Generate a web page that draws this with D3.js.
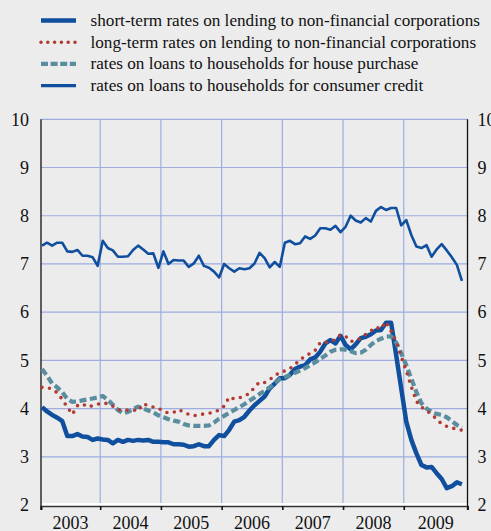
<!DOCTYPE html>
<html>
<head>
<meta charset="utf-8">
<script src="https://cdn.jsdelivr.net/npm/d3@7"></script>
<style>
  html, body { margin: 0; padding: 0; background: #ececec; }
  svg { display: block; font-family: "Liberation Serif", "Times New Roman", serif; }
</style>
</head>
<body>
<svg width="491" height="531"></svg>
<script>
// monthly data, Jan 2003 - Dec 2009 (percentages per annum)
const years = ["2003", "2004", "2005", "2006", "2007", "2008", "2009"];
const yTicks = [2, 3, 4, 5, 6, 7, 8, 9, 10];

const shortTerm = [
  4.03, 3.94, 3.87, 3.81, 3.74, 3.43, 3.43, 3.47, 3.42, 3.41, 3.35, 3.38,
  3.36, 3.35, 3.28, 3.35, 3.31, 3.35, 3.33, 3.35, 3.34, 3.35, 3.31, 3.31,
  3.30, 3.30, 3.26, 3.26, 3.25, 3.21, 3.22, 3.26, 3.22, 3.22, 3.35, 3.45,
  3.43, 3.56, 3.73, 3.76, 3.83, 3.96, 4.07, 4.16, 4.25, 4.42, 4.52, 4.63,
  4.63, 4.70, 4.82, 4.87, 4.90, 5.02, 5.06, 5.18, 5.35, 5.42, 5.35, 5.51,
  5.32, 5.23, 5.33, 5.46, 5.49, 5.54, 5.62, 5.63, 5.78, 5.78, 5.11, 4.42,
  3.73, 3.35, 3.07, 2.83, 2.78, 2.79, 2.66, 2.54, 2.35, 2.39, 2.47, 2.43
];
const longTerm = [
  4.44, 4.44, 4.40, 4.33, 4.19, 4.03, 3.88, 4.06, 4.10, 4.03, 4.06, 4.09,
  4.12, 4.10, 4.05, 3.98, 3.96, 3.97, 3.97, 3.95, 4.10, 4.06, 4.03, 4.01,
  3.94, 3.91, 3.92, 3.98, 3.93, 3.88, 3.85, 3.87, 3.89, 3.90, 3.93, 3.97,
  4.05, 4.24, 4.20, 4.22, 4.27, 4.31, 4.44, 4.55, 4.54, 4.60, 4.68, 4.75,
  4.78, 4.83, 4.92, 5.00, 5.10, 5.14, 5.21, 5.37, 5.37, 5.39, 5.43, 5.53,
  5.50, 5.39, 5.41, 5.46, 5.54, 5.61, 5.69, 5.65, 5.80, 5.60, 5.40, 5.08,
  4.78, 4.45, 4.15, 4.03, 3.96, 3.88, 3.78, 3.68, 3.63, 3.60, 3.57, 3.55
];
const housePurchase = [
  4.82, 4.68, 4.52, 4.44, 4.34, 4.20, 4.14, 4.15, 4.17, 4.19, 4.21, 4.23,
  4.26, 4.18, 4.08, 3.97, 3.90, 3.93, 3.99, 4.04, 4.00, 3.96, 3.92, 3.86,
  3.82, 3.78, 3.75, 3.73, 3.68, 3.65, 3.64, 3.64, 3.64, 3.65, 3.71, 3.79,
  3.85, 3.91, 3.97, 4.03, 4.09, 4.16, 4.23, 4.30, 4.37, 4.44, 4.52, 4.61,
  4.65, 4.69, 4.74, 4.79, 4.84, 4.90, 4.96, 5.03, 5.10, 5.18, 5.22, 5.23,
  5.22, 5.19, 5.15, 5.16, 5.22, 5.32, 5.40, 5.45, 5.49, 5.50, 5.37, 5.15,
  4.90, 4.62, 4.34, 4.11, 4.00, 3.93, 3.89, 3.87, 3.82, 3.74, 3.66, 3.60
];
const consumerCredit = [
  7.38, 7.44, 7.38, 7.44, 7.44, 7.26, 7.25, 7.29, 7.17, 7.17, 7.14, 6.96,
  7.48, 7.33, 7.28, 7.15, 7.15, 7.16, 7.29, 7.38, 7.30, 7.21, 7.22, 6.92,
  7.26, 7.00, 7.08, 7.07, 7.07, 6.94, 7.01, 7.17, 6.96, 6.92, 6.84, 6.72,
  7.00, 6.91, 6.84, 6.91, 6.89, 6.91, 7.01, 7.23, 7.12, 6.93, 7.04, 6.94,
  7.44, 7.48, 7.41, 7.43, 7.57, 7.52, 7.59, 7.74, 7.74, 7.71, 7.79, 7.66,
  7.77, 8.00, 7.90, 7.86, 7.95, 7.88, 8.10, 8.18, 8.12, 8.16, 8.16, 7.80,
  7.91, 7.60, 7.36, 7.33, 7.39, 7.15, 7.30, 7.41, 7.28, 7.14, 6.98, 6.65
];

const seriesNames = [
  "short-term rates on lending to non-financial corporations",
  "long-term rates on lending to non-financial corporations",
  "rates on loans to households for house purchase",
  "rates on loans to households for consumer credit"
];

const svg = d3.select("svg");
const serif = "'Liberation Serif', 'Times New Roman', serif";
const blue = "#0f4f9e", red = "#b23a30", teal = "#5a8d9e";

// estilos de cada serie
const styles = [
  { color: blue, width: 4.5, dash: null, cap: "butt" },
  { color: red, width: 3.6, dash: "0 7.6", cap: "round" },
  { color: teal, width: 4.2, dash: "7 3.5", cap: "butt" },
  { color: blue, width: 2.6, dash: null, cap: "butt" }
];
const allSeries = [shortTerm, longTerm, housePurchase, consumerCredit];

// escalas
const x = d3.scaleLinear().domain([-0.2, 84.1]).range([41, 467.5]);
const y = d3.scaleLinear().domain([2, 10]).range([505, 119.3]);

// rejilla
const yearBounds = d3.range(1, years.length).map(k => k * 12 - 0.5);
svg.append("g").selectAll("line.h")
  .data(yTicks.filter(t => t > 2))
  .join("line")
  .attr("x1", x(-0.2)).attr("x2", x(84.1))
  .attr("y1", d => y(d)).attr("y2", d => y(d))
  .attr("stroke", "#9eacdf").attr("stroke-width", 1.2);
svg.append("g").selectAll("line.v")
  .data(yearBounds)
  .join("line")
  .attr("x1", d => x(d)).attr("x2", d => x(d))
  .attr("y1", y(10)).attr("y2", y(2))
  .attr("stroke", "#9eacdf").attr("stroke-width", 1.2);

// eje inferior
const bounds = [-0.2, ...yearBounds, 84.1];
const bottom = svg.append("g").attr("transform", `translate(0,${y(2) + 1})`)
  .call(d3.axisBottom(x).tickValues(bounds).tickSize(4).tickFormat(""));
bottom.select(".domain").attr("stroke", "#333").attr("stroke-width", 1.6);
bottom.selectAll(".tick line").attr("stroke", "#111").attr("stroke-width", 1.6);
svg.append("line")
  .attr("x1", x(-0.2)).attr("x2", x(84.1))
  .attr("y1", y(2) - 0.8).attr("y2", y(2) - 0.8)
  .attr("stroke", "#fff").attr("stroke-width", 2.2);

// etiquetas de años
svg.append("g").selectAll("text")
  .data(years)
  .join("text")
  .attr("x", (d, i) => (x(bounds[i]) + x(bounds[i + 1])) / 2)
  .attr("y", 528.5)
  .attr("text-anchor", "middle")
  .attr("font-family", serif)
  .attr("font-size", 18)
  .attr("fill", "#111")
  .text(d => d);

// ejes verticales
const left = svg.append("g").attr("transform", `translate(${x(-0.2)},0)`)
  .call(d3.axisLeft(y).tickValues(yTicks).tickSize(0).tickPadding(12));
const right = svg.append("g").attr("transform", `translate(${x(84.1)},0)`)
  .call(d3.axisRight(y).tickValues(yTicks).tickSize(0).tickPadding(10));
[left, right].forEach(g => {
  g.select(".domain").remove();
  g.selectAll("text").attr("font-size", 18).attr("font-family", serif).attr("fill", "#111");
});
[x(-0.2), x(84.1)].forEach(px => {
  svg.append("line")
    .attr("x1", px).attr("x2", px)
    .attr("y1", y(10)).attr("y2", y(2) + 5)
    .attr("stroke", "#111").attr("stroke-width", 1.3);
});

// líneas de datos
const line = d3.line().x((d, i) => x(i)).y(d => y(d));
const drawOrder = [0, 2, 1, 3];
drawOrder.forEach(k => {
  const s = styles[k];
  svg.append("path")
    .datum(allSeries[k])
    .attr("d", line)
    .attr("fill", "none")
    .attr("stroke", s.color)
    .attr("stroke-width", s.width)
    .attr("stroke-dasharray", s.dash)
    .attr("stroke-linecap", s.cap)
    .attr("stroke-linejoin", "round");
});

// leyenda
const legend = svg.append("g");
seriesNames.forEach((name, k) => {
  const s = styles[k];
  const ly = 20.5 + k * 21.7;
  legend.append("line")
    .attr("x1", 41).attr("x2", 76)
    .attr("y1", ly).attr("y2", ly)
    .attr("stroke", s.color)
    .attr("stroke-width", k === 3 ? 3.4 : s.width)
    .attr("stroke-dasharray", k === 1 ? "0 6.8" : (k === 2 ? "7 2.6" : null))
    .attr("stroke-linecap", s.cap);
  legend.append("text")
    .attr("x", 90.5).attr("y", ly + 5.5)
    .attr("font-family", serif)
    .attr("font-size", 17.2)
    .attr("fill", "#111")
    .text(name);
});
</script>
</body>
</html>
